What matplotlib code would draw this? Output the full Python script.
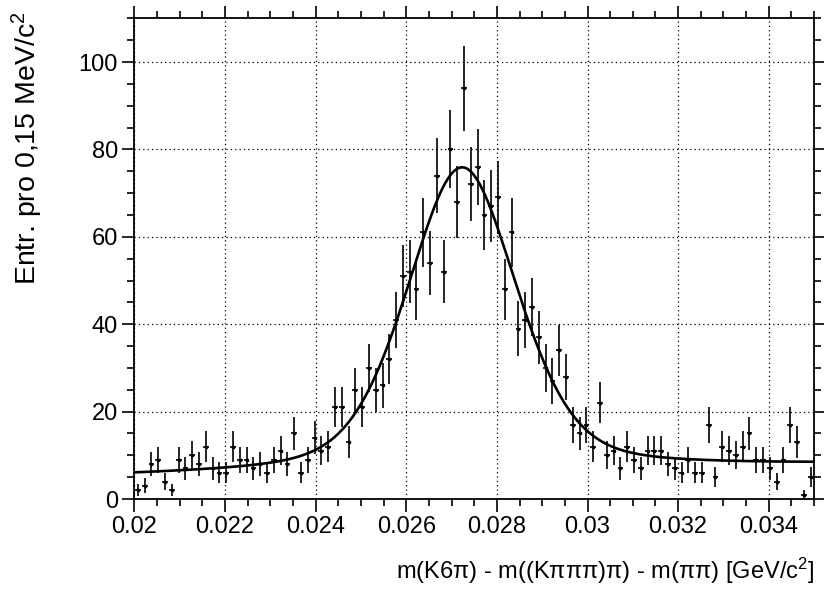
import numpy as np
import matplotlib
matplotlib.use("Agg")
import matplotlib.pyplot as plt
from matplotlib.ticker import MultipleLocator, FuncFormatter

plt.rcParams["font.family"] = ["Liberation Sans", "DejaVu Sans"]
plt.rcParams["mathtext.default"] = "regular"

######### Data
x_min = 0.02
x_max = 0.035
bin_width = 0.00015

counts = [2, 3, 8, 9, 4, 2, 9, 7, 10, 8,
          12, 7, 6, 6, 12, 9, 9, 7, 8, 6,
          9, 11, 8, 15, 6, 9, 14, 11, 12, 21,
          21, 13, 25, 21, 30, 25, 26, 32, 41, 51,
          52, 48, 61, 54, 74, 52, 80, 68, 94, 72,
          76, 65, 67, 69, 48, 61, 39, 41, 44, 37,
          30, 27, 34, 28, 17, 15, 17, 12, 22, 10,
          11, 7, 12, 9, 7, 11, 11, 11, 8, 7,
          6, 9, 6, 6, 17, 5, 12, 11, 10, 12,
          15, 9, 9, 7, 4, 9, 17, 13, 1, 5]

# Fit result (pseudo-Voigt peak on a linear background)
peak_mean = 0.02723
peak_hwhm = 0.00144
peak_amp = 69.5
peak_eta = 0.35
bkg_const = 6.4
bkg_slope = 170.0

x_label = "m(K6\u03c0) - m((K\u03c0\u03c0\u03c0)\u03c0) - m(\u03c0\u03c0) [GeV/c$^{2}$]"
y_label = "Entr. pro 0,15 MeV/c$^{2}$"

######### Prepare
counts = np.array(counts, dtype=float)
centers = x_min + (np.arange(len(counts)) + 0.5) * bin_width
errors = np.sqrt(counts)

def fit_func(x):
    d = (x - peak_mean) / peak_hwhm
    gauss = np.exp(-np.log(2) * d ** 2)
    lorentz = 1.0 / (1.0 + d ** 2)
    return bkg_const + bkg_slope * (x - peak_mean) + peak_amp * (peak_eta * lorentz + (1 - peak_eta) * gauss)

xs = np.linspace(x_min, x_max, 600)

######### Plot
fig = plt.figure(figsize=(8.24, 5.89), dpi=100)
ax = fig.add_axes([0.1632, 0.1528, 0.8247, 0.8161])

ax.errorbar(centers, counts, yerr=errors, xerr=bin_width * 0.42,
            fmt="s", color="black", markersize=2, elinewidth=1.2,
            capsize=0, zorder=3)
ax.plot(xs, fit_func(xs), color="black", linewidth=1.9, zorder=4)

ax.set_xlim(x_min, x_max)
ax.set_ylim(0, 110)

ax.xaxis.set_major_locator(MultipleLocator(0.002))
ax.xaxis.set_minor_locator(MultipleLocator(0.0005))
ax.yaxis.set_major_locator(MultipleLocator(20))
ax.yaxis.set_minor_locator(MultipleLocator(5))
ax.xaxis.set_major_formatter(FuncFormatter(lambda v, p: "%g" % round(v, 4)))

ax.grid(True, which="major", color="black", linestyle=(0, (1, 2.5)), linewidth=0.9)
ax.set_axisbelow(True)

ax.tick_params(which="both", direction="out", top=True, right=True,
               width=1.2, labelsize=17, pad=3)
ax.tick_params(which="major", length=9)
ax.tick_params(which="minor", length=5)
for s in ax.spines.values():
    s.set_linewidth(1.3)

ax.set_xlabel(x_label, fontsize=17, ha="right")
ax.xaxis.set_label_coords(1.0, -0.118)
ax.set_ylabel(y_label, fontsize=20.5, ha="right")
ax.yaxis.set_label_coords(-0.131, 1.015)

plt.savefig("out.png", dpi=100)
